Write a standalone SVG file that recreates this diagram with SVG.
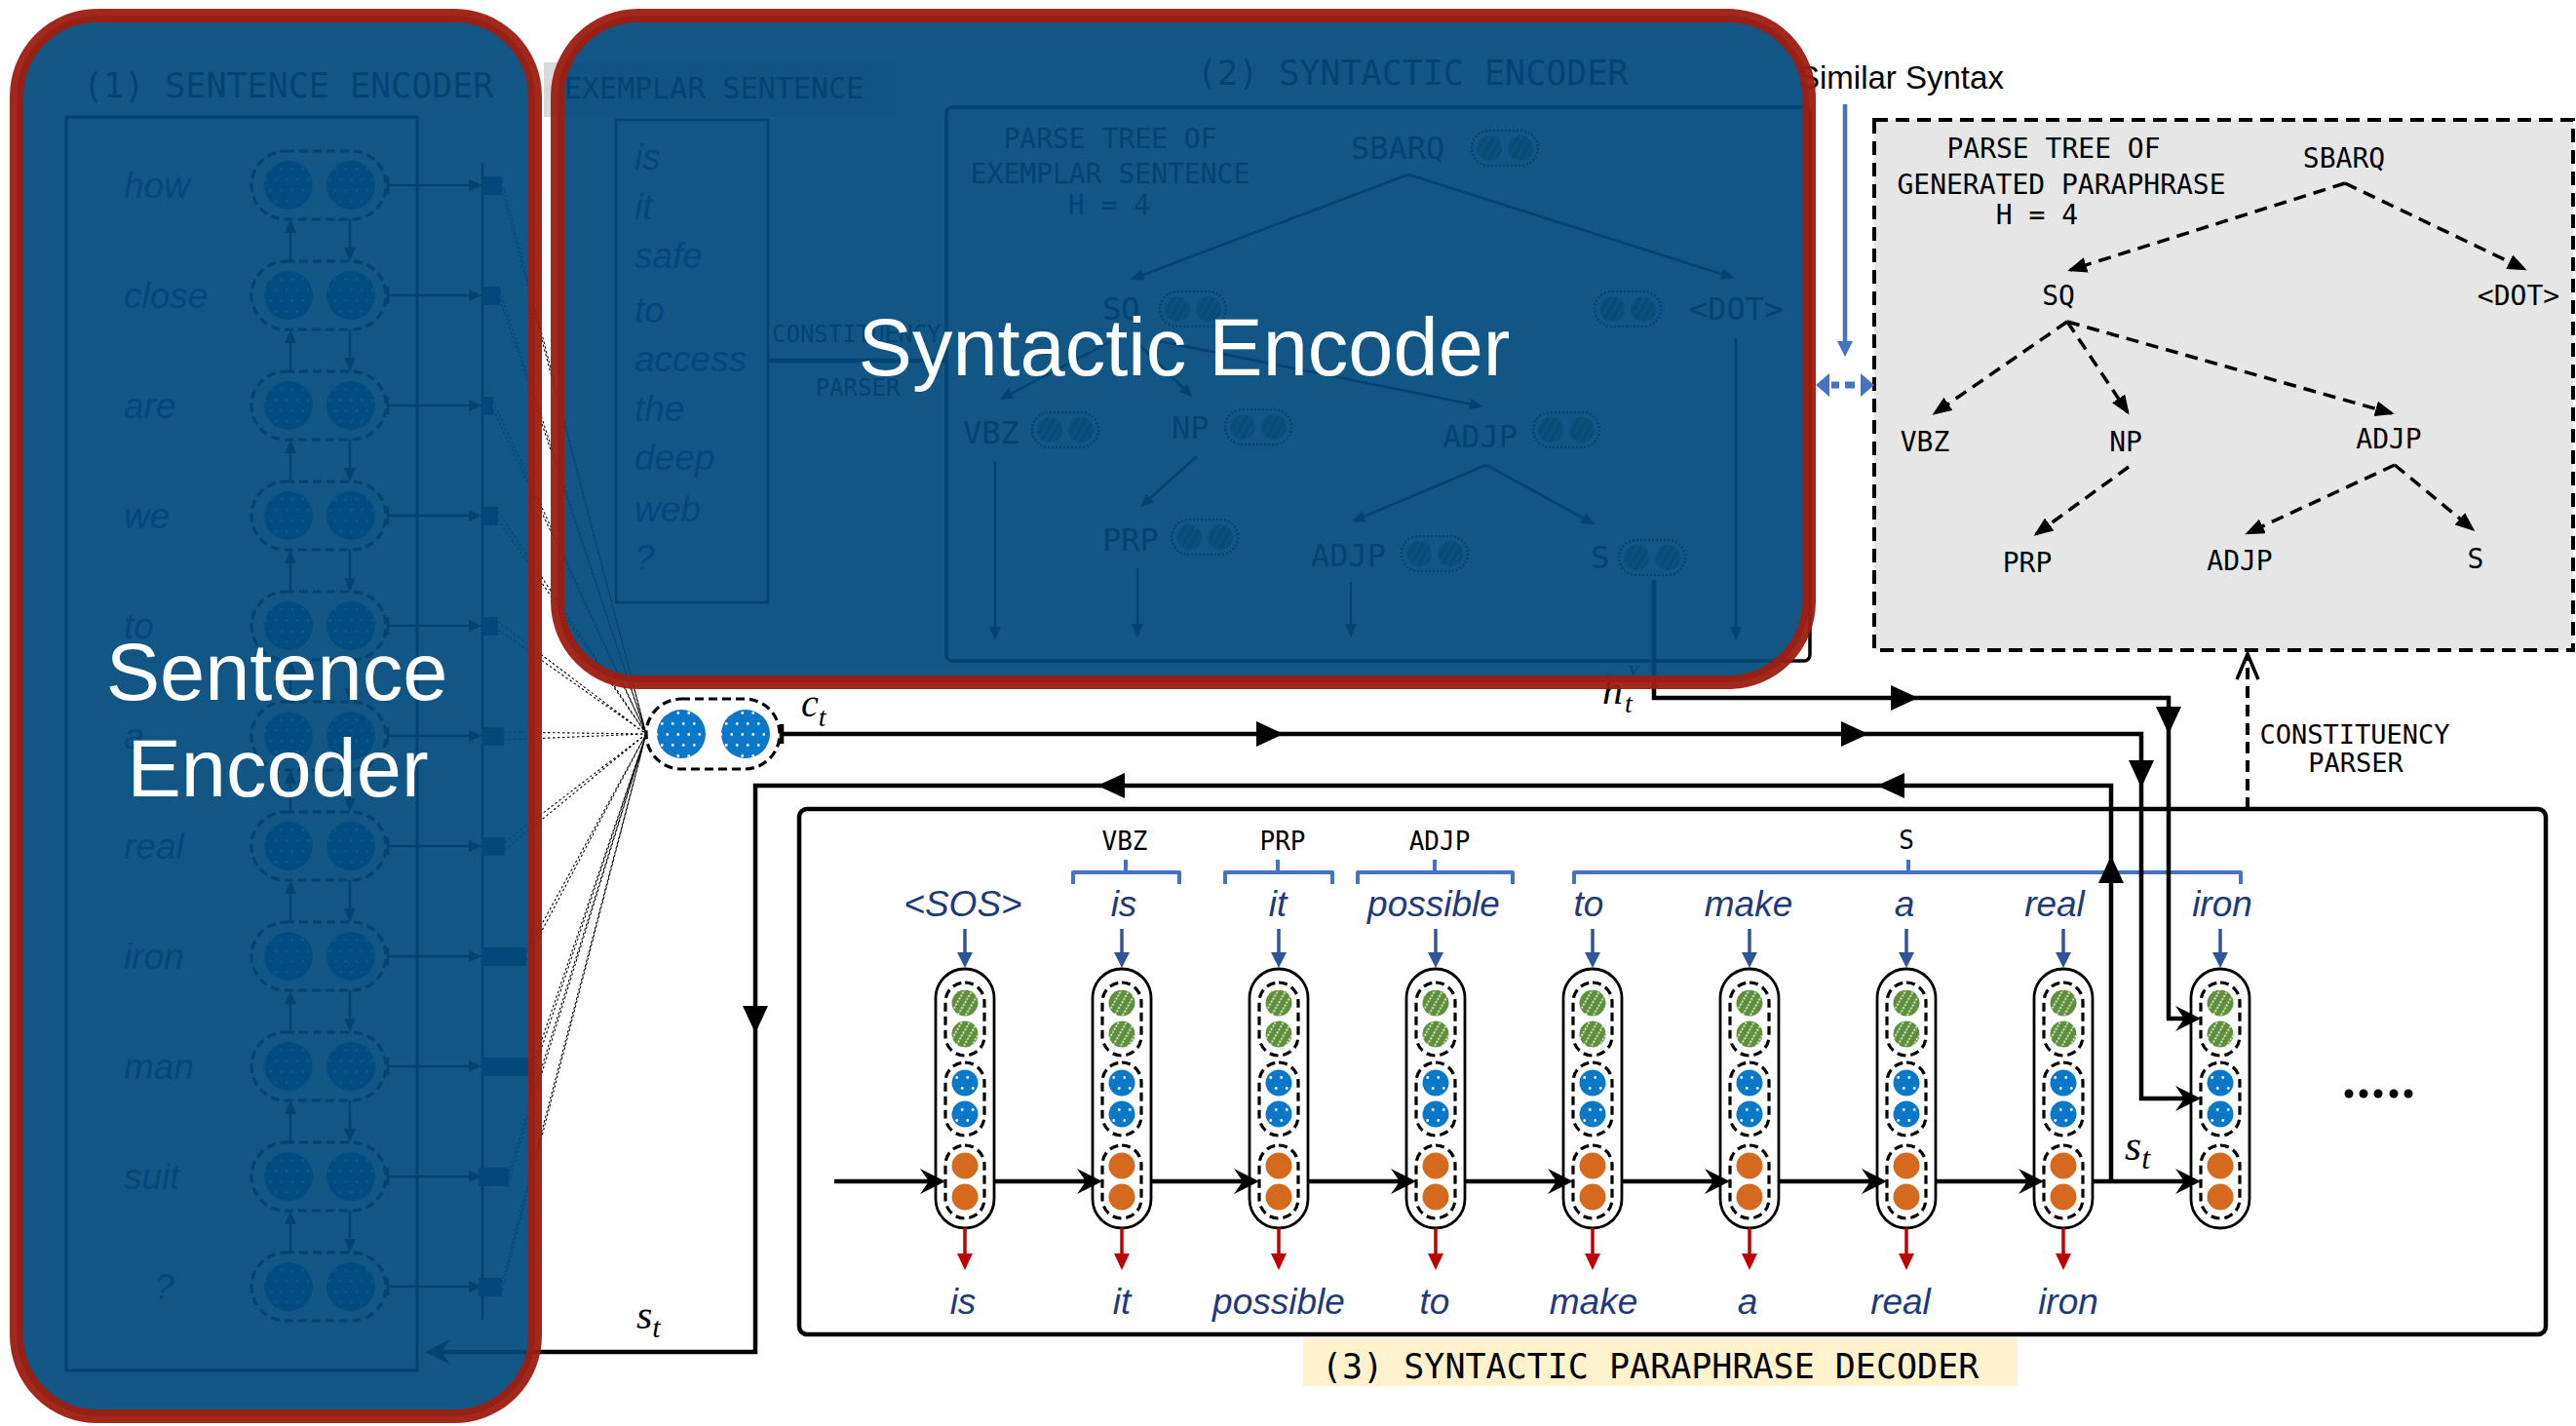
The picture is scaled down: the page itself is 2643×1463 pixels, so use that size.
<svg xmlns="http://www.w3.org/2000/svg" width="2643" height="1463" viewBox="0 0 2643 1463">
<defs>
<style>
text{font-family:"Liberation Sans",Arial,sans-serif}
.mono,.mono text{font-family:"DejaVu Sans Mono","Liberation Mono",monospace;fill:#000}
.word,.word text{font-family:"Liberation Sans",Arial,sans-serif;font-style:italic;font-size:37px;fill:#1f3a78}
.math,.math tspan{font-family:"Liberation Serif","DejaVu Serif",serif;font-style:italic;fill:#000}
.ln{fill:none;stroke:#000;stroke-width:4.5}
.thin{fill:none;stroke:#000;stroke-width:2.5}
.dcap{fill:none;stroke:#000;stroke-width:3.2;stroke-dasharray:9 5}
.cell{fill:#fff;stroke:#000;stroke-width:2.8}
.g{fill:url(#hatch)}
.b{fill:url(#dots)}
.o{fill:#d5691e}
.bl{fill:none;stroke:#2f5597;stroke-width:3.5}
.rd{fill:none;stroke:#c00000;stroke-width:3.5}
.brk{fill:none;stroke:#4472c4;stroke-width:4;stroke-linejoin:round}
.tree{fill:none;stroke:#000;stroke-width:3.5;stroke-dasharray:13 8}
.fan{fill:none;stroke:#000;stroke-width:1.1;stroke-dasharray:2.5 2.5}
.veil{fill:#00497d;fill-opacity:.93}
.rim{fill:none;stroke:#9e1c10;stroke-width:14;stroke-opacity:.95}
.title{font-family:"Liberation Sans",Arial,sans-serif;font-size:83px;fill:#fff}
</style>
<pattern id="dots" patternUnits="userSpaceOnUse" width="11" height="22">
<rect width="11" height="22" fill="#0a78c8"/>
<circle cx="2.75" cy="5.5" r="1.4" fill="#fff"/>
<circle cx="8.25" cy="16.5" r="1.4" fill="#fff"/>
</pattern>
<pattern id="hatch" patternUnits="userSpaceOnUse" width="7" height="7" patternTransform="rotate(30)">
<rect width="7" height="7" fill="#5e8f3b"/>
<line x1="3.5" y1="0" x2="3.5" y2="7" stroke="#fff" stroke-width="1.5" stroke-dasharray="2 1.5"/>
</pattern>
<marker id="mBlue" markerUnits="userSpaceOnUse" markerWidth="16" markerHeight="16" refX="8" refY="8" orient="auto"><path d="M0,0L16,8L0,16z" fill="#2f5597"/></marker>
<marker id="mRed" markerUnits="userSpaceOnUse" markerWidth="17" markerHeight="16" refX="8" refY="8" orient="auto"><path d="M0,0L17,8L0,16z" fill="#c00000"/></marker>
<marker id="mTri" markerUnits="userSpaceOnUse" markerWidth="20" markerHeight="16" refX="17" refY="8" orient="auto"><path d="M0,0L20,8L0,16z" fill="#000"/></marker>
<marker id="mk" markerUnits="userSpaceOnUse" markerWidth="14" markerHeight="12" refX="3" refY="6" orient="auto"><path d="M0,0L14,6L0,12z" fill="#000"/></marker>
<marker id="mSim" markerUnits="userSpaceOnUse" markerWidth="16" markerHeight="16" refX="2" refY="8" orient="auto"><path d="M0,0L16,8L0,16z" fill="#4472c4"/></marker>
<path id="ah" d="M0,0L-28,-13L-28,13z"/>
<path id="stl" d="M0,0L-26,-13L-17,0L-26,13z"/>
<g id="cellShape">
<rect class="cell" x="-30" y="994" width="60" height="266" rx="30"/>
<rect class="dcap" x="-20" y="1008" width="40" height="75" rx="20"/>
<rect class="dcap" x="-20" y="1090" width="40" height="75" rx="20"/>
<rect class="dcap" x="-20" y="1175" width="40" height="75" rx="20"/>
<circle class="g" cx="0" cy="1029" r="13.5"/>
<circle class="g" cx="0" cy="1061" r="13.5"/>
<circle class="b" cx="0" cy="1111" r="13.5"/>
<circle class="b" cx="0" cy="1143" r="13.5"/>
<circle class="o" cx="0" cy="1196" r="13.5"/>
<circle class="o" cx="0" cy="1228" r="13.5"/>
</g>
<g id="encCell">
<rect class="dcap" x="258" y="-35" width="138" height="70" rx="35"/>
<circle class="b" cx="296" cy="0" r="25"/>
<circle class="b" cx="360" cy="0" r="25"/>
<path class="thin" d="M398,-9V9M398,0H484" marker-end="url(#mk)"/>
</g>
<g id="encLink">
<path class="thin" d="M298,78V46" marker-end="url(#mk)"/>
<path class="thin" d="M359,35V67" marker-end="url(#mk)"/>
</g>
<g id="pair">
<rect x="0" y="-18" width="68" height="36" rx="18" fill="none" stroke="#000" stroke-width="2.5" stroke-dasharray="2 2"/>
<circle class="g" cx="18" cy="0" r="13"/>
<circle class="g" cx="50" cy="0" r="13"/>
</g>
</defs>

<rect width="2643" height="1463" fill="#fff"/>

<!-- (1) sentence encoder -->
<g id="sentence-encoder">
<text class="mono" x="85" y="100" font-size="35">(1) SENTENCE ENCODER</text>
<rect x="68" y="120" width="360" height="1286" fill="none" stroke="#000" stroke-width="3"/>
<path class="thin" d="M495,167V1354" stroke-width="1.5"/>
<g id="enc-rows">
<use href="#encCell" y="190"/><use href="#encLink" y="190"/>
<use href="#encCell" y="303"/><use href="#encLink" y="303"/>
<use href="#encCell" y="416"/><use href="#encLink" y="416"/>
<use href="#encCell" y="529"/><use href="#encLink" y="529"/>
<use href="#encCell" y="642"/><use href="#encLink" y="642"/>
<use href="#encCell" y="755"/><use href="#encLink" y="755"/>
<use href="#encCell" y="868"/><use href="#encLink" y="868"/>
<use href="#encCell" y="981"/><use href="#encLink" y="981"/>
<use href="#encCell" y="1094"/><use href="#encLink" y="1094"/>
<use href="#encCell" y="1207"/><use href="#encLink" y="1207"/>
<use href="#encCell" y="1320"/>
</g>
<g id="enc-words" class="word">
<text x="127" y="203">how</text>
<text x="127" y="316">close</text>
<text x="127" y="429">are</text>
<text x="127" y="542">we</text>
<text x="127" y="655">to</text>
<text x="127" y="768">a</text>
<text x="127" y="881">real</text>
<text x="127" y="994">iron</text>
<text x="127" y="1107">man</text>
<text x="127" y="1220">suit</text>
<text x="158" y="1333">?</text>
</g>
<g id="attention-weights" fill="#1f3864">
<rect x="495" y="181" width="20" height="19"/>
<rect x="495" y="294" width="18" height="19"/>
<rect x="495" y="407" width="11" height="19"/>
<rect x="495" y="520" width="16" height="19"/>
<rect x="495" y="633" width="16" height="19"/>
<rect x="494" y="746" width="23" height="19"/>
<rect x="494" y="859" width="24" height="19"/>
<rect x="494" y="972" width="46" height="19"/>
<rect x="494" y="1085" width="54" height="19"/>
<rect x="491" y="1198" width="31" height="19"/>
<rect x="491" y="1311" width="24" height="19"/>
</g>
</g>

<!-- (2) syntactic encoder -->
<g id="exemplar">
<rect x="558" y="64" width="362" height="56" fill="#d9d9d9"/>
<text class="mono" x="579" y="101" font-size="30">EXEMPLAR SENTENCE</text>
<rect x="632" y="123" width="156" height="495" fill="none" stroke="#000" stroke-width="2.5"/>
<g class="word">
<text x="651" y="174">is</text>
<text x="651" y="225">it</text>
<text x="651" y="275">safe</text>
<text x="651" y="331">to</text>
<text x="651" y="381">access</text>
<text x="651" y="432">the</text>
<text x="651" y="482">deep</text>
<text x="651" y="535">web</text>
<text x="651" y="585">?</text>
</g>
<text class="mono" x="792" y="351" font-size="24">CONSTITUENCY</text>
<text class="mono" x="880" y="406" font-size="24" text-anchor="middle">PARSER</text>
<path class="ln" d="M788,370H971" stroke-width="4"/>
</g>

<g id="syntactic-encoder">
<text class="mono" x="1228" y="87" font-size="35">(2) SYNTACTIC ENCODER</text>
<rect x="971" y="110" width="886" height="568" rx="6" fill="none" stroke="#000" stroke-width="3.5"/>
<g class="mono" font-size="28" text-anchor="middle">
<text x="1139" y="152">PARSE TREE OF</text>
<text x="1139" y="188">EXEMPLAR SENTENCE</text>
<text x="1138" y="220">H = 4</text>
</g>
<g class="mono" font-size="32">
<text x="1386" y="163">SBARQ</text>
<text x="1131" y="328">SQ</text>
<text x="1733" y="328">&lt;DOT&gt;</text>
<text x="988" y="455">VBZ</text>
<text x="1202" y="450">NP</text>
<text x="1480" y="459">ADJP</text>
<text x="1131" y="565">PRP</text>
<text x="1345" y="581">ADJP</text>
<text x="1632" y="583">S</text>
</g>
<use href="#pair" x="1510" y="152"/>
<use href="#pair" x="1190" y="317"/>
<use href="#pair" x="1636" y="317"/>
<use href="#pair" x="1059" y="441"/>
<use href="#pair" x="1257" y="438"/>
<use href="#pair" x="1573" y="441"/>
<use href="#pair" x="1202" y="551"/>
<use href="#pair" x="1438" y="568"/>
<use href="#pair" x="1661" y="572"/>
<g class="thin" stroke-width="3" marker-end="url(#mk)">
<path d="M1445,179L1170,283"/>
<path d="M1445,179L1769,282"/>
<path d="M1150,345L1035,405"/>
<path d="M1165,350L1216,400"/>
<path d="M1190,350L1511,415"/>
<path d="M1228,468L1178,513"/>
<path d="M1525,477L1397,531"/>
<path d="M1525,477L1627,533"/>
<path d="M1021,473V646"/>
<path d="M1167,583V643"/>
<path d="M1386,597V643"/>
<path d="M1781,347V646"/>
</g>
</g>

<!-- context vector -->
<g id="context-vector">
<path class="fan" d="M515,186L663,753M515,194L663,753M513,299L663,753M513,307L663,753M506,412L663,753M506,420L663,753M511,525L663,753M511,533L663,753M511,638L663,753M511,646L663,753M517,751L663,753M517,759L663,753M518,864L663,753M518,872L663,753M540,977L663,753M540,985L663,753M548,1090L663,753M548,1098L663,753M522,1203L663,753M522,1211L663,753M515,1316L663,753M515,1324L663,753"/>
<rect class="dcap" x="663" y="717" width="137" height="72" rx="36" stroke-width="4" stroke-dasharray="13 7"/>
<circle class="b" cx="699" cy="753" r="25"/>
<circle class="b" cx="765" cy="753" r="25"/>
<text class="math" x="822" y="735" font-size="40">c<tspan font-size="28" dy="10">t</tspan></text>
</g>

<!-- parse tree of the generated paraphrase -->
<g id="generated-parse-tree">
<rect x="1923" y="123" width="717" height="544" fill="#e7e6e6" stroke="#000" stroke-width="4" stroke-dasharray="14 8"/>
<g class="mono" font-size="28" text-anchor="middle">
<text x="2107" y="162">PARSE TREE OF</text>
<text x="2115" y="199">GENERATED PARAPHRASE</text>
<text x="2090" y="230">H = 4</text>
<text x="2405" y="172">SBARQ</text>
<text x="2112" y="313">SQ</text>
<text x="2584" y="313">&lt;DOT&gt;</text>
<text x="1975" y="463">VBZ</text>
<text x="2181" y="463">NP</text>
<text x="2451" y="460">ADJP</text>
<text x="2080" y="587">PRP</text>
<text x="2298" y="585">ADJP</text>
<text x="2540" y="583">S</text>
</g>
<g class="tree" marker-end="url(#mTri)">
<path d="M2406,188L2124,277"/>
<path d="M2406,188L2590,276"/>
<path d="M2121,330L1985,424"/>
<path d="M2121,330L2183,423"/>
<path d="M2121,330L2454,424"/>
<path d="M2184,479L2089,548"/>
<path d="M2457,477L2306,547"/>
<path d="M2457,477L2537,543"/>
</g>
</g>

<g id="similar-syntax">
<text x="1845" y="91" font-size="33" fill="#000">Similar Syntax</text>
<path d="M1893,107V352" fill="none" stroke="#4472c4" stroke-width="4.5" marker-end="url(#mSim)"/>
<path d="M1879,395H1887M1893,395H1903" fill="none" stroke="#4472c4" stroke-width="7"/>
<path d="M1863,395L1877,383L1877,407z M1923,395L1909,383L1909,407z" fill="#4472c4"/>
</g>

<g id="constituency-parser">
<path d="M2306,830V676" fill="none" stroke="#000" stroke-width="4" stroke-dasharray="12 7"/>
<path d="M2295,697L2306,671L2317,697" fill="none" stroke="#000" stroke-width="3.5"/>
<g class="mono" font-size="27" text-anchor="middle">
<text x="2416" y="763">CONSTITUENCY</text>
<text x="2417" y="792">PARSER</text>
</g>
</g>

<!-- (3) syntactic paraphrase decoder -->
<g id="decoder">
<rect x="820" y="830" width="1792" height="539" rx="8" fill="none" stroke="#000" stroke-width="4.5"/>
<rect x="1337" y="1373" width="733" height="49" fill="#fff2cc"/>
<text class="mono" x="1356" y="1414" font-size="35">(3) SYNTACTIC PARAPHRASE DECODER</text>
<g id="dec-brackets">
<path class="brk" d="M1101,907V895H1210V907M1155,895V882"/>
<path class="brk" d="M1257,907V895H1367V907M1311,895V882"/>
<path class="brk" d="M1393,907V895H1552V907M1472,895V882"/>
<path class="brk" d="M1615,907V895H2299V907M1958,895V882"/>
<g class="mono" font-size="26" text-anchor="middle">
<text x="1154" y="872">VBZ</text>
<text x="1316" y="872">PRP</text>
<text x="1477" y="872">ADJP</text>
<text x="1956" y="871">S</text>
</g>
</g>
<g id="dec-inputs" class="word" text-anchor="middle">
<text x="988" y="940">&lt;SOS&gt;</text>
<text x="1153" y="940">is</text>
<text x="1311" y="940">it</text>
<text x="1471" y="940">possible</text>
<text x="1630" y="940">to</text>
<text x="1794" y="940">make</text>
<text x="1954" y="940">a</text>
<text x="2108" y="940">real</text>
<text x="2280" y="940">iron</text>
</g>
<g id="dec-input-arrows" class="bl" marker-end="url(#mBlue)">
<path d="M990,953V985"/><path d="M1151,953V985"/><path d="M1312,953V985"/>
<path d="M1473,953V985"/><path d="M1634,953V985"/><path d="M1795,953V985"/>
<path d="M1956,953V985"/><path d="M2117,953V985"/><path d="M2278,953V985"/>
</g>
<g id="dec-cells">
<g id="cell-sos"><use href="#cellShape" x="990"/></g>
<g id="cell-is"><use href="#cellShape" x="1151"/></g>
<g id="cell-it"><use href="#cellShape" x="1312"/></g>
<g id="cell-possible"><use href="#cellShape" x="1473"/></g>
<g id="cell-to"><use href="#cellShape" x="1634"/></g>
<g id="cell-make"><use href="#cellShape" x="1795"/></g>
<g id="cell-a"><use href="#cellShape" x="1956"/></g>
<g id="cell-real"><use href="#cellShape" x="2117"/></g>
<g id="cell-iron"><use href="#cellShape" x="2278"/></g>
</g>
<g id="dec-output-arrows" class="rd" marker-end="url(#mRed)">
<path d="M990,1260V1294"/><path d="M1151,1260V1294"/><path d="M1312,1260V1294"/>
<path d="M1473,1260V1294"/><path d="M1634,1260V1294"/><path d="M1795,1260V1294"/>
<path d="M1956,1260V1294"/><path d="M2117,1260V1294"/>
</g>
<g id="dec-outputs" class="word" text-anchor="middle">
<text x="988" y="1348">is</text>
<text x="1151" y="1348">it</text>
<text x="1312" y="1348">possible</text>
<text x="1472" y="1348">to</text>
<text x="1635" y="1348">make</text>
<text x="1793" y="1348">a</text>
<text x="1950" y="1348">real</text>
<text x="2122" y="1348">iron</text>
</g>
<g fill="#000">
<circle cx="2410" cy="1122" r="4.5"/><circle cx="2425" cy="1122" r="4.5"/><circle cx="2440" cy="1122" r="4.5"/><circle cx="2456" cy="1122" r="4.5"/><circle cx="2471" cy="1122" r="4.5"/>
</g>
</g>

<!-- connectors -->
<g id="connectors">
<path class="ln" stroke-width="4" d="M856,1212H962M1020,1212H1123M1181,1212H1284M1342,1212H1445M1503,1212H1606M1664,1212H1767M1825,1212H1928M1986,1212H2089M2147,1212H2250"/>
<g fill="#000">
<use href="#stl" x="970" y="1212"/><use href="#stl" x="1131" y="1212"/><use href="#stl" x="1292" y="1212"/>
<use href="#stl" x="1453" y="1212"/><use href="#stl" x="1614" y="1212"/><use href="#stl" x="1775" y="1212"/>
<use href="#stl" x="1936" y="1212"/><use href="#stl" x="2097" y="1212"/><use href="#stl" x="2258" y="1212"/>
</g>
<!-- context vector c_t into the decoder -->
<path class="ln" stroke-width="4" d="M802,743V763M802,753H2197V1127H2250"/>
<!-- syntactic state h_t^Y into the decoder -->
<path class="ln" stroke-width="4" d="M1697,595V716H2225V1045H2250"/>
<!-- decoder state s_t fed back to the sentence encoder -->
<path class="ln" stroke-width="4.5" d="M2166,1212V806H775V1387H444"/>
<g fill="#000">
<use href="#ah" transform="translate(1317,753)"/>
<use href="#ah" transform="translate(1917,753)"/>
<use href="#ah" transform="translate(2197,808) rotate(90)"/>
<use href="#stl" x="2258" y="1127"/>
<use href="#ah" transform="translate(1968,716)"/>
<use href="#ah" transform="translate(2225,753) rotate(90)"/>
<use href="#stl" x="2258" y="1045"/>
<use href="#ah" transform="translate(2166,878) rotate(-90)"/>
<use href="#ah" transform="translate(1926,806) rotate(180)"/>
<use href="#ah" transform="translate(1126,806) rotate(180)"/>
<use href="#ah" transform="translate(775,1060) rotate(90)"/>
<use href="#stl" transform="translate(436,1387) rotate(180)"/>
</g>
<text class="math"><tspan x="1644" y="722" font-size="42">h</tspan><tspan x="1670" y="697" font-size="20">Y</tspan><tspan x="1667" y="731" font-size="28">t</tspan></text>
<text class="math" x="2180" y="1190" font-size="44">s<tspan font-size="32" dy="9">t</tspan></text>
<text class="math" x="653" y="1363" font-size="42">s<tspan font-size="30" dy="9">t</tspan></text>
</g>

<!-- highlighted component panels -->
<g id="panel-sentence-encoder">
<rect class="veil" x="17" y="16" width="532" height="1437" rx="83"/>
<rect class="rim" x="17" y="16" width="532" height="1437" rx="83"/>
<text class="title" x="284" y="718" text-anchor="middle">Sentence</text>
<text class="title" x="285" y="817" text-anchor="middle">Encoder</text>
</g>
<g id="panel-syntactic-encoder">
<rect class="veil" x="572" y="16" width="1284" height="684" rx="83"/>
<rect class="rim" x="572" y="16" width="1284" height="684" rx="83"/>
<text class="title" x="1215" y="385" text-anchor="middle">Syntactic Encoder</text>
</g>
</svg>
